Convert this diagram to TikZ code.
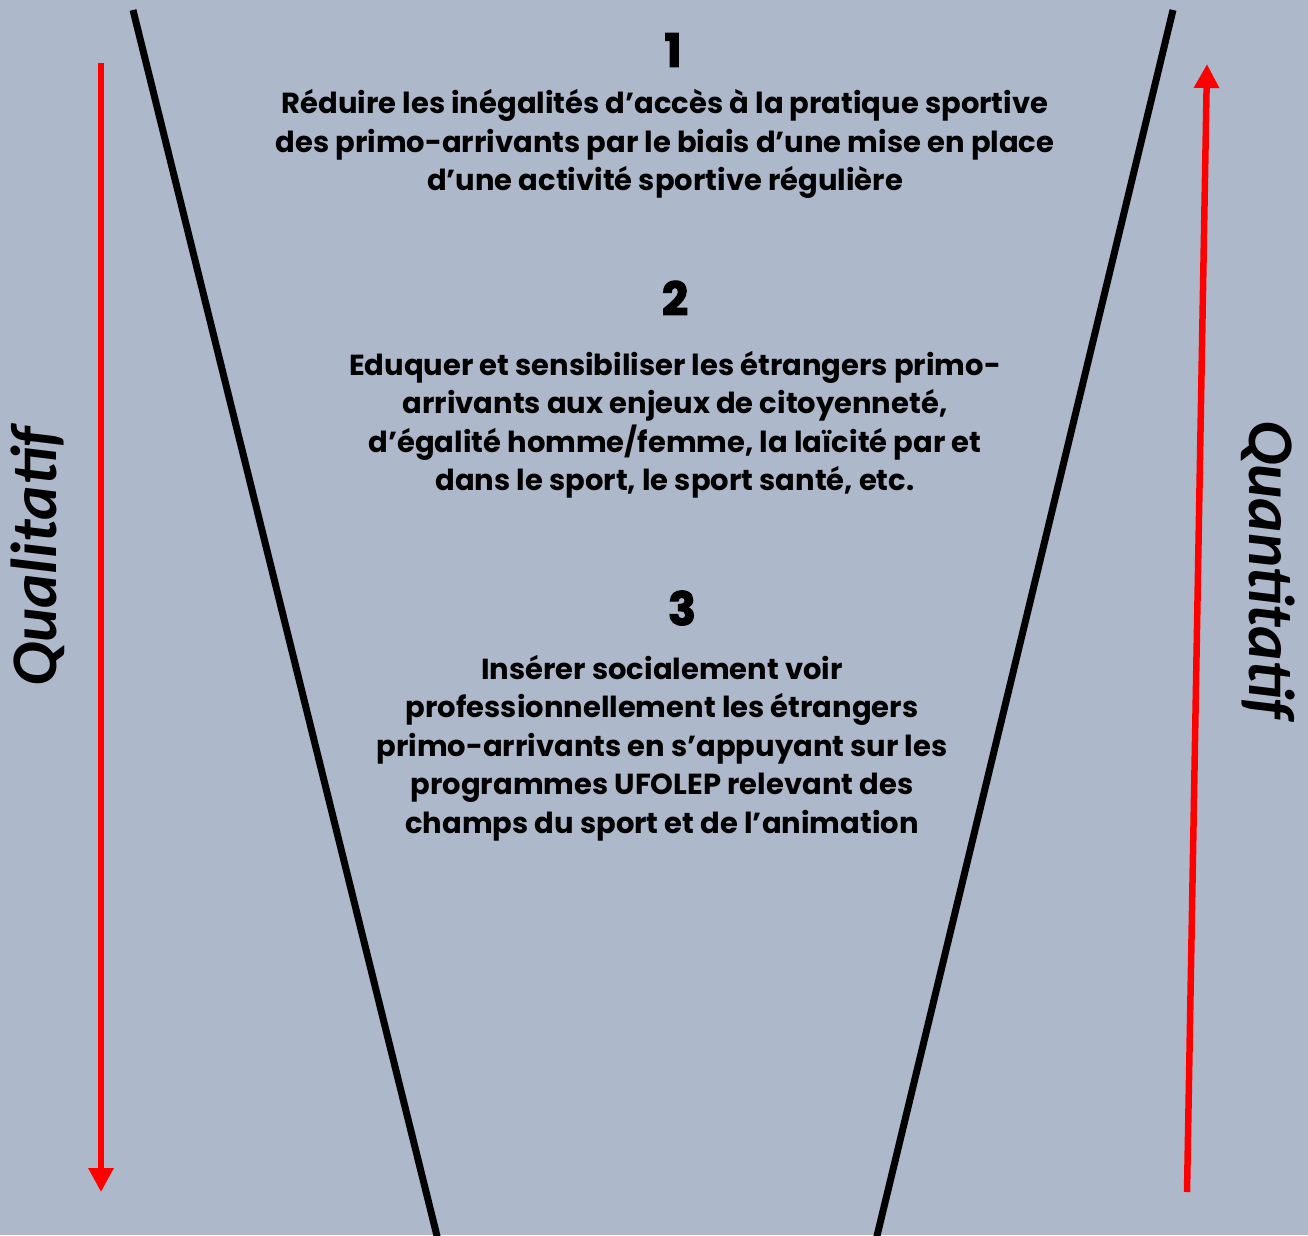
\documentclass[tikz,border=0pt]{standalone}
\usepackage{fontspec}
\setmainfont{Poppins}
\newfontfamily\labelfont{Carlito}
\newfontfamily\numfont[BoldFeatures={FakeBold=2.5}]{Poppins}
\usetikzlibrary{arrows.meta,positioning}
\definecolor{fond}{HTML}{ADB8CA}
\definecolor{fleche}{HTML}{FF0000}
\tikzset{
  objectif/.style={align=center, font=\bfseries\fontsize{29}{38.5}\selectfont, inner sep=0pt},
  numero/.style={font=\numfont\bfseries\fontsize{46}{46}\selectfont, inner sep=0pt},
  axe/.style={font=\labelfont\bfseries\itshape\fontsize{65}{65}\selectfont, inner sep=0pt},
  bord/.style={line width=7pt, black},
  sens/.style={line width=6.5pt, fleche, -{Triangle[length=24pt,width=24pt]}}
}
\begin{document}
\begin{tikzpicture}[x=1pt,y=-1pt]
\fill[fond] (0,0) rectangle (1308,1235);
\useasboundingbox (0,0) rectangle (1308,1235);
% entonnoir
\draw[bord] (133,10) -- (438,1240);
\draw[bord] (1173,10) -- (876,1240);
% fleches
\coordinate (qualhaut) at (101,63);
\coordinate (qualbas) at (101,1192);
\coordinate (quanbas) at (1187,1192);
\coordinate (quanhaut) at (1207,64);
\draw[sens] (qualhaut) -- (qualbas);
\draw[sens] (quanbas) -- (quanhaut);
\node[axe, rotate=90] (qual) at (38,557) {Qualitatif};
\node[axe, rotate=-90] (quan) at (1268,570) {Quantitatif};
% objectifs
\node[numero] (num1) at (673,50) {1};
\node[objectif] (txt1) at (665,144) {Réduire les inégalités d’accès à la pratique sportive\\des primo-arrivants par le biais d’une mise en place\\d’une activité sportive régulière};
\node[numero] (num2) at (675,298) {2};
\node[objectif] (txt2) at (675,425) {Eduquer et sensibiliser les étrangers primo-\\arrivants aux enjeux de citoyenneté,\\d’égalité homme/femme, la laïcité par et\\dans le sport, le sport santé, etc.};
\node[numero] (num3) at (682,608) {3};
\node[objectif] (txt3) at (662,748) {Insérer socialement voir\\professionnellement les étrangers\\primo-arrivants en s’appuyant sur les\\programmes UFOLEP relevant des\\champs du sport et de l’animation};
\end{tikzpicture}
\end{document}
